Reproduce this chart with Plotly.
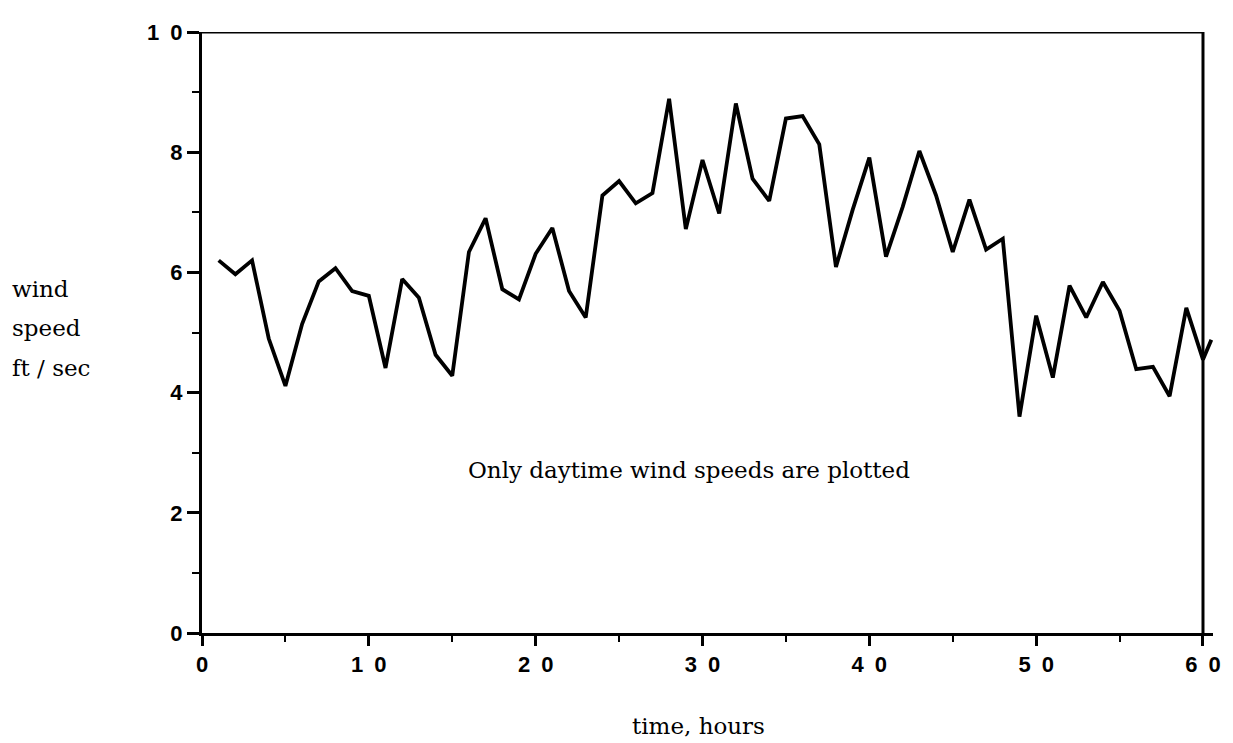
import plotly.graph_objects as go

hours = list(range(1, 61)) + [60.5]
speed = [6.2, 5.97, 6.2, 4.9, 4.11, 5.14, 5.85, 6.07, 5.69, 5.61,
         4.41, 5.89, 5.58, 4.63, 4.28, 6.34, 6.9, 5.72, 5.55, 6.31,
         6.74, 5.69, 5.25, 7.28, 7.52, 7.15, 7.32, 8.89, 6.72, 7.87,
         6.98, 8.81, 7.56, 7.19, 8.56, 8.6, 8.13, 6.09, 7.04, 7.91,
         6.26, 7.09, 8.02, 7.28, 6.34, 7.21, 6.38, 6.56, 3.6, 5.28,
         4.25, 5.78, 5.25, 5.84, 5.36, 4.39, 4.43, 3.94, 5.41, 4.55, 4.88]

x_ticks = [0, 10, 20, 30, 40, 50, 60]
x_labels = ["0", "1\u20020", "2\u20020", "3\u20020", "4\u20020", "5\u20020", "6\u20020"]
y_ticks = [0, 2, 4, 6, 8, 10]
y_labels = ["0", "2", "4", "6", "8", "1\u20020"]

fig = go.Figure()
fig.add_trace(go.Scatter(x=hours, y=speed, mode="lines",
                         line=dict(color="black", width=3.8),
                         showlegend=False, hoverinfo="skip"))

tickfont = dict(family="Liberation Sans, Arial, sans-serif", size=22, color="black", weight="bold")
serif = dict(family="DejaVu Serif, serif", size=23, color="black")

fig.update_xaxes(range=[0, 60.6], tickvals=x_ticks, ticktext=x_labels,
                 showgrid=False, zeroline=False, showline=True, linecolor="black",
                 linewidth=3, ticks="outside", ticklen=10, tickwidth=2.5, tickcolor="black",
                 tickfont=tickfont,
                 minor=dict(dtick=5, tick0=0, ticks="outside", ticklen=6, tickwidth=2, tickcolor="black"))
fig.update_yaxes(range=[0, 10], tickvals=y_ticks, ticktext=y_labels,
                 showgrid=False, zeroline=False, showline=True, linecolor="black",
                 linewidth=3, ticks="outside", ticklen=12, tickwidth=2.5, tickcolor="black",
                 tickfont=tickfont,
                 minor=dict(dtick=1, tick0=0, ticks="outside", ticklen=7, tickwidth=2, tickcolor="black"))

# top and right frame lines (frame ends at x = 60)
fig.add_shape(type="line", xref="x", yref="y", x0=0, x1=60, y0=10, y1=10,
              line=dict(color="black", width=3))
fig.add_shape(type="line", xref="x", yref="y", x0=60, x1=60, y0=0, y1=10,
              line=dict(color="black", width=3))

fig.add_annotation(x=29.2, y=2.71, xref="x", yref="y", text="Only daytime wind speeds are plotted",
                   showarrow=False, font=serif, xanchor="center", yanchor="middle")
fig.add_annotation(x=(702 - 202) / 1019, y=-0.154, xref="paper", yref="paper", text="time, hours",
                   showarrow=False, font=serif, xanchor="center", yanchor="middle")
for txt, yy in [("wind", 5.72), ("speed", 5.07), ("ft / sec", 4.41)]:
    fig.add_annotation(x=(8 - 202) / 1019, y=yy, xref="paper", yref="y", text=txt,
                       showarrow=False, font=serif, xanchor="left", yanchor="middle")

# page body has an 8px margin, so the figure is sized and padded to fit the window
fig.update_layout(width=1225, height=735, margin=dict(l=194, r=12, t=13, b=110),
                  paper_bgcolor="white", plot_bgcolor="white")

fig.write_html("out.html")
